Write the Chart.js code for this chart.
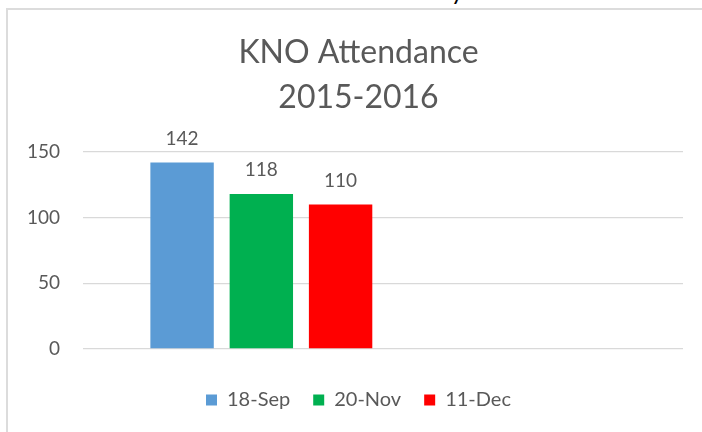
<!DOCTYPE html>
<html lang="en">
<head>
    <meta charset="UTF-8">
    <title>KNO Attendance 2015-2016</title>
    <style>
        html, body {
            margin: 0;
            padding: 0;
            width: 702px;
            height: 432px;
            overflow: hidden;
            background: #fff;
            font-family: Lato, sans-serif;
        }
        .frame {
            position: absolute;
            left: 6px;
            top: 8px;
            width: 720px;
            height: 450px;
            border: 2px solid #dcdcdc;
        }
        .cut-text {
            position: absolute;
            left: 451px;
            top: -21px;
            font-size: 24px;
            line-height: 24px;
            color: #000;
        }
        #chart {
            position: absolute;
            left: 0;
            top: 0;
        }
    </style>
    <script src="https://cdn.jsdelivr.net/npm/chart.js"></script>
</head>
<body>
    <div class="frame"></div>
    <div class="cut-text">y</div>
    <canvas id="chart" width="702" height="432"></canvas>

    <script>
        // chart data
        const titleLines = ['KNO Attendance', '2015-2016'];
        const seriesNames = ['18-Sep', '20-Nov', '11-Dec'];
        const attendance = [142, 118, 110];
        const yTicks = [0, 50, 100, 150];

        const barColors = ['#5B9BD5', '#00B050', '#FF0000'];
        const textColor = '#595959';
        const gridColor = '#d9d9d9';

        // each series is one bar, placed at its own index on the x scale
        const datasets = seriesNames.map(function(name, i) {
            return {
                label: name,
                data: [{ x: i, y: attendance[i] }],
                backgroundColor: barColors[i],
                borderWidth: 0
            };
        });

        // value labels above the bars
        const valueLabels = {
            id: 'valueLabels',
            afterDatasetsDraw(chart) {
                const ctx = chart.ctx;
                ctx.save();
                ctx.font = '19px Lato';
                ctx.fillStyle = textColor;
                ctx.textAlign = 'center';
                ctx.textBaseline = 'alphabetic';
                chart.data.datasets.forEach(function(ds, i) {
                    const meta = chart.getDatasetMeta(i);
                    meta.data.forEach(function(bar, j) {
                        ctx.fillText(ds.data[j].y, bar.x, bar.y - 18);
                    });
                });
                ctx.restore();
            }
        };

        new Chart(document.getElementById('chart'), {
            type: 'bar',
            data: { datasets: datasets },
            options: {
                responsive: false,
                animation: false,
                datasets: {
                    bar: {
                        grouped: false,
                        categoryPercentage: 0.8,
                        barPercentage: 1
                    }
                },
                layout: {
                    padding: { left: 20, right: 5, top: 0, bottom: 12 }
                },
                scales: {
                    x: {
                        type: 'linear',
                        offset: false,
                        min: -1.25,
                        max: 6.32,
                        grid: { display: false },
                        border: { display: false },
                        ticks: { display: false, stepSize: 100 },
                        afterFit(scale) { scale.height = 18; }
                    },
                    y: {
                        min: yTicks[0],
                        max: yTicks[yTicks.length - 1],
                        border: { display: false },
                        grid: { color: gridColor, lineWidth: 1.3, drawTicks: false },
                        ticks: {
                            stepSize: yTicks[1] - yTicks[0],
                            padding: 23,
                            color: textColor,
                            font: { family: 'Lato', size: 19 }
                        },
                        afterFit(scale) { scale.width = 63; }
                    },
                    // empty space on the right so the title sits where it does in the original
                    spacer: {
                        position: 'right',
                        grid: { display: false },
                        border: { display: false },
                        ticks: { display: false },
                        afterFit(scale) { scale.width = 14; }
                    }
                },
                plugins: {
                    title: {
                        display: true,
                        text: titleLines,
                        color: textColor,
                        font: { family: 'Lato', size: 32, weight: 'normal', lineHeight: 45 / 32 },
                        padding: { top: 30, bottom: 32 }
                    },
                    legend: {
                        position: 'bottom',
                        labels: {
                            boxWidth: 11,
                            boxHeight: 11,
                            padding: 23,
                            color: textColor,
                            font: { family: 'Lato', size: 20 }
                        }
                    },
                    tooltip: { enabled: false }
                }
            },
            plugins: [valueLabels]
        });
    </script>
</body>
</html>
